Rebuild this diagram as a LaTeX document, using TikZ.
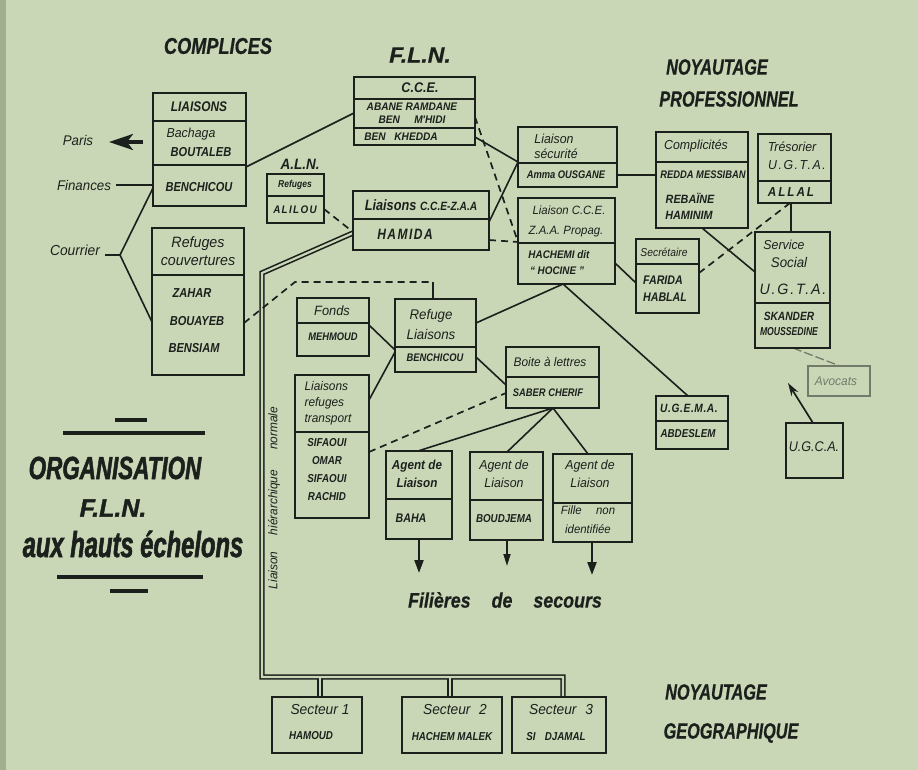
\documentclass[tikz,border=0pt]{standalone}
\usepackage{fontspec}
\setmainfont{Liberation Sans}
\newfontfamily\hf{Liberation Sans}
\usetikzlibrary{calc,arrows.meta}
\pgfdeclarelayer{back}
\pgfdeclarelayer{bg}
\pgfsetlayers{back,bg,main}
\definecolor{paper}{RGB}{201,215,183}
\definecolor{paperedge}{RGB}{160,176,140}
\definecolor{ink}{RGB}{28,32,28}
\definecolor{faint}{RGB}{115,122,105}
\newcommand\hs[3]{\hf\fontsize{#1}{#2}\selectfont\addfontfeature{FakeStretch=#3}}
\newcommand\lsp[1]{\addfontfeature{LetterSpace=#1}}
\newcommand\flnbox[5]{\node[box,minimum width={#4-#2},minimum height={#5-#3}] (#1) at ({(#2+#4)/2},{(#3+#5)/2}) {};}
\newcommand\flndiv[2]{\draw[dv] (#1.west |- 0,#2) -- (#1.east |- 0,#2);}
\tikzset{
 box/.style={draw=ink,line width=2pt,inner sep=0pt,outer sep=0pt,rectangle},
 dv/.style={draw=ink,line width=1.8pt},
 con/.style={draw=ink,line width=1.6pt},
 dcon/.style={draw=ink,line width=1.7pt,dash pattern=on 7pt off 5pt},
 tb/.style={inner sep=0pt,text=ink,align=center,font=\hs{13}{15}{0.85}\bfseries\itshape},
 tr/.style={inner sep=0pt,text=ink,align=center,font=\hs{13}{15}{0.95}\itshape},
 ttl/.style={inner sep=0pt,text=ink,font=\hs{22}{26}{0.74}\addfontfeature{FakeBold=0.6}\bfseries\itshape},
 big/.style={inner sep=0pt,text=ink,font=\hs{32}{36}{0.7}\addfontfeature{FakeBold=1.5}\bfseries\itshape},
}
\begin{document}
\begin{tikzpicture}[x=1pt,y=-1pt]
\begin{pgfonlayer}{back}
  \fill[paper] (0,0) rectangle (918,770);
  \fill[paperedge] (0,0) rectangle (6,770);
\end{pgfonlayer}
\useasboundingbox (0,0) rectangle (918,770);

% ---------- boxes ----------
\flnbox{liaisons}{153}{93}{246}{206} \flndiv{liaisons}{121} \flndiv{liaisons}{165}
\flnbox{refuges}{152}{228}{244}{375} \flndiv{refuges}{275}
\flnbox{aln}{267}{174}{324}{223} \flndiv{aln}{196}
\flnbox{cce}{354}{77}{475}{145} \flndiv{cce}{99} \flndiv{cce}{128}
\flnbox{lcz}{353}{191}{489}{250} \flndiv{lcz}{219}
\flnbox{lsec}{518}{127}{617}{187} \flndiv{lsec}{163}
\flnbox{lccez}{518}{198}{615}{284} \flndiv{lccez}{243}
\flnbox{compl}{656}{132}{748}{228} \flndiv{compl}{162}
\flnbox{treso}{758}{134}{831}{203} \flndiv{treso}{181}
\flnbox{secr}{636}{239}{699}{313} \flndiv{secr}{264}
\flnbox{servs}{755}{232}{830}{348} \flndiv{servs}{303}
\node[box,draw=faint,line width=1.2pt,minimum width=62,minimum height=30] (avoc) at (839,381) {};
\flnbox{ugca}{786}{423}{843}{478}
\flnbox{ugema}{656}{396}{728}{449} \flndiv{ugema}{421}
\flnbox{fonds}{297}{298}{369}{356} \flndiv{fonds}{323}
\flnbox{refl}{395}{299}{476}{372} \flndiv{refl}{347}
\flnbox{lrt}{295}{375}{369}{518} \flndiv{lrt}{432}
\flnbox{boite}{506}{347}{599}{408} \flndiv{boite}{377}
\flnbox{ag1}{386}{451}{452}{539} \flndiv{ag1}{499}
\flnbox{ag2}{470}{452}{543}{540} \flndiv{ag2}{500}
\flnbox{ag3}{553}{454}{632}{542} \flndiv{ag3}{503}
\flnbox{s1}{272}{697}{362}{753}
\flnbox{s2}{402}{697}{502}{753}
\flnbox{s3}{512}{697}{606}{753}

% ---------- titles ----------
\node[ttl,font=\hs{23}{26}{0.79}\addfontfeature{FakeBold=0.6}\bfseries\itshape] (tcompl) at (218,46) {COMPLICES};
\node[ttl,font=\hs{22}{26}{1.05}\addfontfeature{FakeBold=0.6}\bfseries\itshape] (tfln) at (420,55) {F.L.N.};
\node[ttl] (tnoy1) at (717,67) {NOYAUTAGE};
\node[ttl] (tnoy2) at (729,99) {PROFESSIONNEL};
\node[ttl] (tnoy3) at (716,692) {NOYAUTAGE};
\node[ttl] (tnoy4) at (731,733) {GEOGRAPHIQUE};
\node[big] (torg1) at (115,468) {ORGANISATION};
\node[big,font=\hs{25}{30}{1.0}\addfontfeature{FakeBold=1.5}\bfseries\itshape] (torg2) at (113,508) {F.L.N.};
\node[big,font=\hs{36}{40}{0.66}\addfontfeature{FakeBold=1.5}\bfseries\itshape] (torg3) at (133,544) {aux hauts échelons};
\draw[ink,line width=4pt] (115,420) -- (147,420);
\draw[ink,line width=3.5pt] (63,433) -- (205,433);
\draw[ink,line width=3.5pt] (57,577) -- (203,577);
\draw[ink,line width=4pt] (110,591) -- (148,591);

% ---------- left labels ----------
\node[tr,font=\hs{14}{16}{0.95}\itshape] (tparis) at (78,140) {Paris};
\node[tr,font=\hs{14}{16}{0.95}\itshape] (tfin) at (84,185) {Finances};
\node[tr,font=\hs{14.5}{16}{0.95}\itshape] (tcour) at (75,250) {Courrier};
\coordinate (paristip) at (109,142);
\coordinate (cj) at (120,255);

% ---------- box texts ----------
\node[tb,font=\hs{14}{16}{0.85}\bfseries\itshape] (t1) at (199,107) {LIAISONS};
\node[tr] (t2) at (191,134) {Bachaga};
\node[tb] (t3) at (201,152) {BOUTALEB};
\node[tb] (t4) at (199,187) {BENCHICOU};
\node[tr,font=\hs{15}{18}{0.95}\itshape] (t5) at (198,251) {Refuges\\couvertures};
\node[tb] (t6) at (192,293) {ZAHAR};
\node[tb] (t7) at (197,321) {BOUAYEB};
\node[tb] (t8) at (194,348) {BENSIAM};

\node[tb,font=\hs{15}{18}{0.9}\bfseries\itshape] (t9) at (300,164) {A.L.N.};
\node[tb,font=\hs{10}{12}{0.85}\bfseries\itshape] (t10) at (295,185) {Refuges};
\node[tb,font=\hs{11}{12}{0.9}\bfseries\itshape\lsp{12}] (t11) at (295,210) {ALILOU};

\node[tb,font=\hs{14}{16}{0.9}\bfseries\itshape] (t12) at (420,88) {C.C.E.};
\node[tb,font=\hs{11}{13}{0.92}\bfseries\itshape] (t13) at (412,107) {ABANE RAMDANE};
\node[tb,font=\hs{11}{13}{0.92}\bfseries\itshape] (t14) at (412,120) {BEN\hspace{1.3em}M'HIDI};
\node[tb,font=\hs{11}{13}{0.92}\bfseries\itshape] (t15) at (401,137) {BEN\hspace{0.8em}KHEDDA};

\node[tb,font=\hs{15}{18}{0.85}\bfseries\itshape] (t16) at (421,205) {Liaisons {\fontsize{12}{14}\selectfont C.C.E-Z.A.A}};
\node[tb,font=\hs{15}{18}{0.8}\bfseries\itshape\lsp{10}] (t17) at (405,234) {HAMIDA};

\node[tr] (t18) at (554,139) {Liaison};
\node[tr] (t19) at (556,154) {sécurité};
\node[tb,font=\hs{11}{13}{0.85}\bfseries\itshape] (t20) at (566,175) {Amma OUSGANE};

\node[tr,font=\hs{12}{15}{0.95}\itshape] (t21) at (569,210) {Liaison C.C.E.};
\node[tr,font=\hs{12}{15}{0.95}\itshape] (t22) at (566,232) {Z.A.A. Propag.};
\node[tb,font=\hs{11}{13}{0.9}\bfseries\itshape] (t23) at (559,255) {HACHEMI dit};
\node[tb,font=\hs{11}{13}{0.9}\bfseries\itshape] (t24) at (557,271) {“ HOCINE ”};

\node[tr] (t25) at (696,146) {Complicités};
\node[tb,font=\hs{11}{13}{0.85}\bfseries\itshape] (t26) at (703,175) {REDDA MESSIBAN};
\node[tb,font=\hs{12}{13}{0.9}\bfseries\itshape] (t27) at (690,198) {REBAÏNE};
\node[tb,font=\hs{12}{13}{0.9}\bfseries\itshape] (t28) at (689,215) {HAMINIM};

\node[tr] (t29) at (792,147) {Trésorier};
\node[tr,font=\hs{13}{15}{0.95}\itshape\lsp{12}] (t30) at (797,165) {U.G.T.A.};
\node[tb,font=\hs{13}{15}{0.9}\bfseries\itshape\lsp{15}] (t31) at (791,192) {ALLAL};

\node[tr,font=\hs{11.5}{13}{0.9}\itshape] (t32) at (664,252) {Secrétaire};
\node[tb,font=\hs{12.5}{15}{0.85}\bfseries\itshape] (t33) at (663,280) {FARIDA};
\node[tb,font=\hs{12.5}{15}{0.85}\bfseries\itshape] (t34) at (665,297) {HABLAL};

\node[tr,font=\hs{13}{15}{0.95}\itshape] (t35) at (784,245) {Service};
\node[tr,font=\hs{14}{15}{0.95}\itshape] (t36) at (789,262) {Social};
\node[tr,font=\hs{15}{15}{0.95}\itshape\lsp{12}] (t37) at (793,289) {U.G.T.A.};
\node[tb,font=\hs{12}{13}{0.85}\bfseries\itshape] (t38) at (789,316) {SKANDER};
\node[tb,font=\hs{11.5}{13}{0.75}\bfseries\itshape] (t39) at (789,332) {MOUSSEDINE};

\node[tr,text=faint,font=\hs{12.5}{15}{0.95}\itshape] (t40) at (836,381) {Avocats};
\node[tr,font=\hs{14}{15}{0.9}\itshape] (t41) at (814,447) {U.G.C.A.};
\node[tb,font=\hs{12}{15}{0.85}\bfseries\itshape\lsp{5}] (t42) at (689,408) {U.G.E.M.A.};
\node[tb,font=\hs{11.5}{13}{0.85}\bfseries\itshape] (t43) at (688,434) {ABDESLEM};

\node[tr,font=\hs{13.5}{15}{0.95}\itshape] (t44) at (332,311) {Fonds};
\node[tb,font=\hs{11}{12}{0.85}\bfseries\itshape] (t45) at (333,337) {MEHMOUD};
\node[tr,font=\hs{14}{20}{0.95}\itshape] (t46) at (431,324) {Refuge\\Liaisons};
\node[tb,font=\hs{11}{12}{0.85}\bfseries\itshape] (t47) at (435,358) {BENCHICOU};

\node[tr,font=\hs{12.5}{16}{0.95}\itshape,align=left] (t48) at (328,403) {Liaisons\\refuges\\transport};
\node[tb,font=\hs{11.5}{18}{0.85}\bfseries\itshape] (t49) at (327,470) {SIFAOUI\\OMAR\\SIFAOUI\\RACHID};

\node[tr,font=\hs{12.5}{15}{0.95}\itshape] (t50) at (550,362) {Boite à lettres};
\node[tb,font=\hs{11}{12}{0.85}\bfseries\itshape] (t51) at (548,393) {SABER CHERIF};

\node[tb,font=\hs{13}{18}{0.9}\bfseries\itshape] (t52) at (417,474) {Agent de\\Liaison};
\node[tb,font=\hs{12.5}{15}{0.85}\bfseries\itshape] (t53) at (411,518) {BAHA};
\node[tr,font=\hs{13}{18}{0.95}\itshape] (t54) at (504,474) {Agent de\\Liaison};
\node[tb,font=\hs{11.5}{13}{0.85}\bfseries\itshape] (t55) at (504,519) {BOUDJEMA};
\node[tr,font=\hs{13}{18}{0.95}\itshape] (t56) at (590,474) {Agent de\\Liaison};
\node[tr,font=\hs{12}{19}{0.95}\itshape] (t57) at (588,520) {Fille\hspace{1.2em}non\\identifiée};

\node[tb,font=\hs{21}{24}{0.85}\addfontfeature{FakeBold=0.6}\bfseries\itshape] (t58) at (505,600) {Filières\hspace{1em}de\hspace{1em}secours};
\coordinate (fa1) at (419,573);
\coordinate (fa2) at (507,566);
\coordinate (fa3) at (592,575);

\node[tr,font=\hs{14.5}{18}{0.95}\itshape] (t59) at (320,710) {Secteur 1};
\node[tb,font=\hs{11.5}{13}{0.85}\bfseries\itshape] (t60) at (311,736) {HAMOUD};
\node[tr,font=\hs{14.5}{18}{0.95}\itshape] (t61) at (455,710) {Secteur\hspace{0.6em}2};
\node[tb,font=\hs{11.5}{13}{0.85}\bfseries\itshape] (t62) at (452,737) {HACHEM MALEK};
\node[tr,font=\hs{14.5}{18}{0.95}\itshape] (t63) at (561,710) {Secteur\hspace{0.6em}3};
\node[tb,font=\hs{11.5}{13}{0.85}\bfseries\itshape] (t64) at (556,737) {SI\hspace{0.8em}DJAMAL};

\node[tr,font=\hs{12.5}{13}{0.95}\itshape,rotate=90] (t65) at (274,498) {Liaison\hspace{1.3em}hiérarchique\hspace{1.6em}normale};
\coordinate (ugtip) at (788,383);

% double-line coordinates
\coordinate (hb1) at (262,273);
\coordinate (hb2) at (262,677);
\coordinate (hb3) at (563,677);
\coordinate (hj1) at (320,677);
\coordinate (hj2) at (450,677);
\coordinate (bk1) at (295,282);
\coordinate (rlt) at (433,282);

% ---------- connectors ----------
\begin{pgfonlayer}{bg}
  % double line (Liaison hiérarchique normale)
  \draw[ink,line width=5.4pt,line join=miter] (lcz.west |- 0,233) -- (hb1) -- (hb2) -- (hb3) -- (s3.north -| hb3);
  \draw[ink,line width=5.4pt] (hj1) -- (s1.north -| hj1);
  \draw[ink,line width=5.4pt] (hj2) -- (s2.north -| hj2);
  \draw[paper,line width=2.2pt,line join=miter] (lcz.west |- 0,233) -- (hb1) -- (hb2) -- (hb3) -- (s3.north -| hb3);
  \draw[paper,line width=2.2pt] (hj1) -- (s1.north -| hj1);
  \draw[paper,line width=2.2pt] (hj2) -- (s2.north -| hj2);

  % Paris arrow
  \draw[ink,line width=3.2pt,-{Stealth[length=24pt,width=16pt,inset=6pt]}] (liaisons.west |- 0,142) [shorten <=10pt] -- (paristip);
  % Finances, Courrier
  \draw[con] (tfin.east) [shorten <=5pt] -- (liaisons.west |- 0,185);
  \draw[con] ($(tcour.east)+(5,5)$) -- (cj) -- (liaisons.west |- 0,188);
  \draw[con] (cj) -- (refuges.west |- 0,322);

  \draw[con] (liaisons.east |- 0,167) -- (cce.west |- 0,113);
  \draw[con] (cce.east |- 0,137) -- (lsec.west |- 0,162);
  \draw[con] (lcz.east |- 0,222) -- (lsec.west |- 0,162);
  \draw[dcon] (cce.east |- 0,117) -- (lccez.west |- 0,242);
  \draw[dcon] (lcz.east |- 0,240) -- (lccez.west |- 0,242);
  \draw[dcon] (aln.east |- 0,209) -- (lcz.west |- 0,232);

  \draw[dcon] (refuges.east |- 0,323) -- (bk1) -- (rlt);
  \draw[con] (rlt) -- (refl.north -| rlt);
  \draw[con] (fonds.east |- 0,325) -- (refl.west |- 0,350);
  \draw[con] (lrt.east |- 0,400) -- (refl.west |- 0,352);
  \draw[con] (refl.east |- 0,323) -- (lccez.south -| 563,0);
  \draw[con] (lccez.south -| 563,0) -- (ugema.north -| 688,0);
  \draw[con] (refl.east |- 0,357) -- (boite.west |- 0,385);
  \draw[dcon] (lrt.east |- 0,452) -- (boite.west |- 0,393);
  \draw[con] (boite.south -| 553,0) -- (ag1.north -| 418,0);
  \draw[con] (boite.south -| 553,0) -- (ag2.north -| 507,0);
  \draw[con] (boite.south -| 553,0) -- (ag3.north -| 588,0);
  \draw[ink,line width=2.2pt,-{Triangle[length=13pt,width=9pt]}] (ag1.south -| fa1) -- (fa1);
  \draw[ink,line width=1.7pt,-{Triangle[length=12pt,width=7pt]}] (ag2.south -| fa2) -- (fa2);
  \draw[ink,line width=2.2pt,-{Triangle[length=13pt,width=9pt]}] (ag3.south -| fa3) -- (fa3);

  \draw[con] (lsec.east |- 0,175) -- (compl.west |- 0,175);
  \draw[con] (lccez.east |- 0,263) -- (secr.west |- 0,283);
  \draw[dcon] (secr.east |- 0,273) -- (treso.south -| 790,0);
  \draw[con] (compl.south -| 702,0) -- (servs.west |- 0,272);
  \draw[con] (treso.south -| 791,0) -- (servs.north -| 791,0);
  \draw[faint,line width=1.3pt,dash pattern=on 9pt off 3pt] (servs.south -| 793,0) -- (avoc.north -| 840,0);
  \draw[ink,line width=1.7pt,-{Stealth[length=13pt,width=8pt]}] (ugca.north -| 813,0) -- (ugtip);
\end{pgfonlayer}
\end{tikzpicture}
\end{document}
